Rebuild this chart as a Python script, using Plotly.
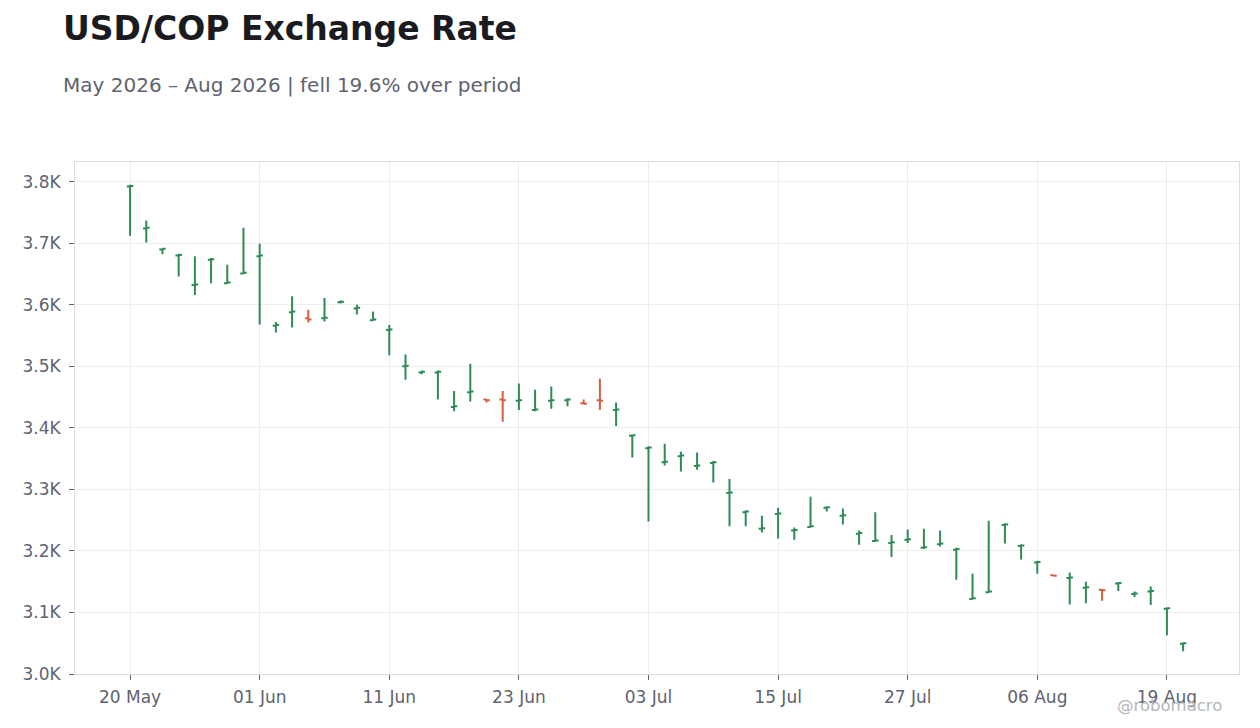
import pandas as pd
import plotly.graph_objects as go

# business days from 20 May 2026, one holiday dropped (17 Aug)
dates = pd.bdate_range('2026-05-20', '2026-08-21')
dates = [d for d in dates if d.strftime('%Y-%m-%d') != '2026-08-17'][:66]
day_labels = [d.strftime('%Y-%m-%d') for d in dates]

opens = [3792, 3724, 3690, 3680, 3632, 3673, 3635, 3651, 3679, 3566,
         3588, 3578, 3578, 3604, 3594, 3575, 3559, 3500, 3490, 3490,
         3434, 3458, 3446, 3446, 3444, 3429, 3444, 3445, 3440, 3445,
         3429, 3387, 3367, 3344, 3354, 3338, 3343, 3294, 3263, 3236,
         3260, 3233, 3239, 3270, 3257, 3228, 3216, 3213, 3218, 3205,
         3211, 3202, 3122, 3133, 3242, 3208, 3181, 3160.5, 3156, 3140,
         3137, 3147, 3130, 3134, 3106, 3049]
highs = [3795, 3737, 3692, 3683, 3679, 3676, 3665, 3725, 3699, 3572,
         3614, 3592, 3611, 3607, 3600, 3589, 3567, 3519, 3493, 3493,
         3460, 3504, 3447, 3460, 3472, 3462, 3467, 3448, 3446, 3480,
         3441, 3389, 3370, 3374, 3361, 3360, 3346, 3317, 3266, 3257,
         3270, 3238, 3288, 3272, 3269, 3233, 3263, 3226, 3235, 3236,
         3233, 3205, 3163, 3249, 3245, 3211, 3184, 3161, 3165, 3150,
         3138, 3149, 3134, 3142, 3108, 3051]
lows = [3712, 3701, 3682, 3646, 3616, 3635, 3634, 3650, 3568, 3555,
        3563, 3571, 3573, 3602, 3584, 3574, 3518, 3478, 3487, 3446,
        3427, 3443, 3441, 3410, 3429, 3427, 3431, 3435, 3438, 3429,
        3403, 3352, 3248, 3339, 3329, 3332, 3311, 3240, 3240, 3230,
        3220, 3218, 3238, 3264, 3243, 3210, 3215, 3190, 3213, 3203,
        3207, 3153, 3121, 3132, 3212, 3186, 3163, 3159, 3113, 3115,
        3119, 3135, 3125, 3112, 3063, 3037]
closes = [3793, 3725, 3691, 3681, 3633, 3674, 3636, 3652, 3680, 3567,
          3589, 3576, 3579, 3605, 3595, 3576, 3560, 3501, 3491, 3491,
          3435, 3459, 3445, 3445, 3445, 3430, 3445, 3446, 3439, 3444,
          3430, 3388, 3368, 3345, 3355, 3339, 3344, 3295, 3264, 3237,
          3261, 3234, 3240, 3271, 3258, 3229, 3217, 3214, 3219, 3206,
          3212, 3203, 3123, 3134, 3243, 3209, 3182, 3159.5, 3157, 3141,
          3136, 3148, 3131, 3135, 3107, 3050]

tick_idx = [0, 8, 16, 24, 32, 40, 48, 56, 64]
tick_text = [dates[i].strftime('%d %b') for i in tick_idx]
y_ticks = [3000, 3100, 3200, 3300, 3400, 3500, 3600, 3700, 3800]
y_text = ['%.1fK' % (v / 1000) for v in y_ticks]

fig = go.Figure(go.Ohlc(
    x=day_labels, open=opens, high=highs, low=lows, close=closes,
    increasing=dict(line=dict(color='#2e8b57', width=2)),
    decreasing=dict(line=dict(color='#d1603d', width=2)),
    tickwidth=0.2, showlegend=False))

fig.update_layout(
    width=1260, height=728,
    font=dict(family='DejaVu Sans', color='#5f6370', size=17),
    paper_bgcolor='white', plot_bgcolor='white',
    margin=dict(l=67, r=29, t=154, b=62),
    title=dict(text='<b>USD/COP Exchange Rate</b>', font=dict(size=33, color='#1a1a1f'),
               xref='container', x=55 / 1260, xanchor='left',
               yref='container', y=1 - 20 / 728, yanchor='middle'),
    annotations=[
        dict(text='May 2026 – Aug 2026 | fell 19.6% over period',
             xref='paper', yref='paper', x=-14 / 1164, y=(666 - 77) / 512,
             xanchor='left', yanchor='middle', showarrow=False,
             font=dict(size=20, color='#5f6370')),
        dict(text='@robomacro', xref='paper', yref='paper',
             x=(1216 - 67) / 1164, y=-31 / 512, xanchor='right', yanchor='middle',
             showarrow=False, font=dict(size=16.5, color='#b5b7bd')),
    ],
)
fig.update_xaxes(type='category', range=[-3.4, 68.45], rangeslider_visible=False,
                 tickvals=[day_labels[i] for i in tick_idx], ticktext=tick_text,
                 showgrid=True, gridcolor='#ededed', showline=True, linecolor='#dcdcdc',
                 mirror=True, ticks='outside', ticklen=5, tickcolor='#5f6370',
                 ticklabelstandoff=3)
fig.update_yaxes(range=[3000, 3832], tickvals=y_ticks, ticktext=y_text,
                 showgrid=True, gridcolor='#ededed', showline=True, linecolor='#dcdcdc',
                 mirror=True, ticks='outside', ticklen=5, tickcolor='#5f6370',
                 zeroline=False, ticklabelstandoff=5)

fig.write_html('out.html')
